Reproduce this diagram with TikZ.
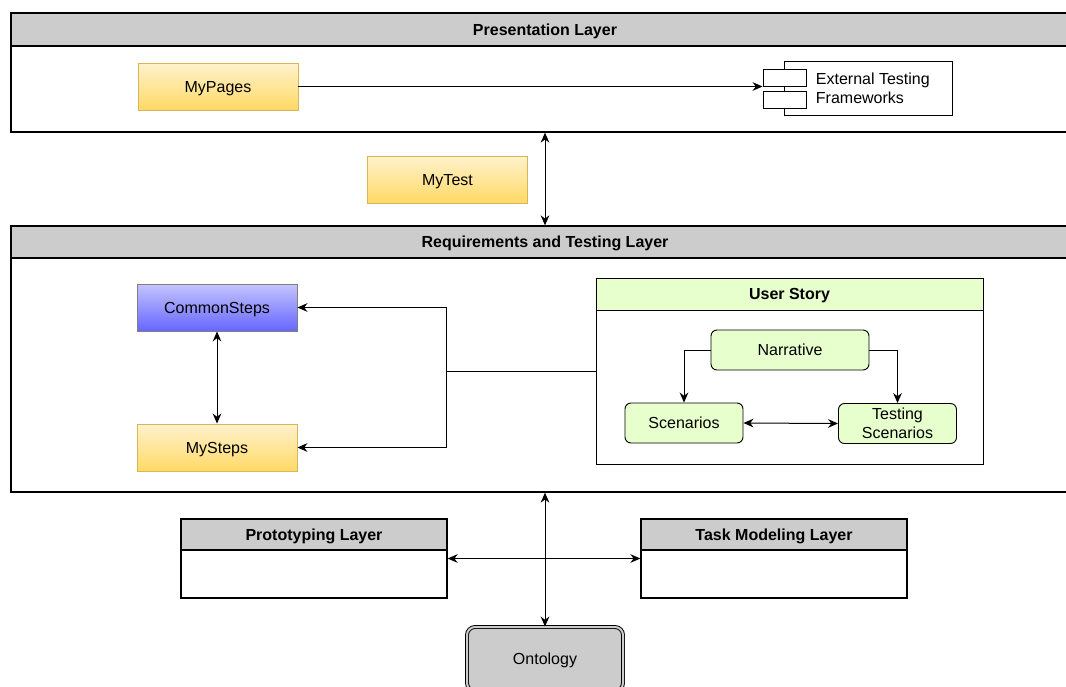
\documentclass[tikz,border=0pt]{standalone}
\usepackage{fontspec}
\setmainfont{Liberation Sans}
\usepackage{xcolor}
\usetikzlibrary{arrows.meta,positioning}
\definecolor{hdrgray}{HTML}{CCCCCC}
\definecolor{yeltop}{HTML}{FFF2CC}
\definecolor{yelbot}{HTML}{FFD966}
\definecolor{yelline}{HTML}{D6B656}
\definecolor{bluetop}{HTML}{C4C4FF}
\definecolor{bluebot}{HTML}{6666FF}
\definecolor{storygreen}{HTML}{E6FFCC}
\tikzset{
  box/.style={draw, rectangle, align=center, inner sep=2pt, line width=0.7pt,
              font=\fontsize{12}{14}\selectfont, text height=0.86em, text depth=0pt},
  twolines/.style={text height={}, text depth={}},
  layer/.style={box, line width=1pt},
  layerhead/.style={layer, fill=hdrgray, font=\fontsize{12}{14}\selectfont\bfseries},
  yellowbox/.style={box, draw=yelline, top color=yeltop, bottom color=yelbot,
                    minimum width=120pt, minimum height=35.25pt},
  bluebox/.style={box, draw=gray, top color=bluetop, bottom color=bluebot,
                  minimum width=120pt, minimum height=35.25pt},
  storybox/.style={box, fill=storygreen, rounded corners=4.5pt, minimum height=30pt},
  port/.style={box, fill=white, minimum width=32.25pt, minimum height=12.75pt},
  lbl/.style={align=left, inner sep=2pt, font=\fontsize{12}{14}\selectfont},
  arr/.style={line width=0.75pt, -{Stealth[length=7.5pt,width=6.5pt]}},
  both/.style={line width=0.75pt, {Stealth[length=7.5pt,width=6.5pt]}-{Stealth[length=7.5pt,width=6.5pt]}},
}
\begin{document}
\begin{tikzpicture}[x=0.75pt, y=-0.75pt]
  \useasboundingbox (0,0) rectangle (1066,686);
  \clip (0,0) rectangle (1066,686);
  % presentation layer
  \node[layer, minimum width=801pt, minimum height=89.25pt] (presbody) at (545,72.5) {};
  \node[layerhead, minimum width=801pt, minimum height=24.75pt] (pres) at (545,29.5) {Presentation Layer};
  \node[yellowbox] (mypages) at (218,86.5) {MyPages};
  \node[box, minimum width=126pt, minimum height=40.5pt] (ext) at (868,88) {};
  \node[port] (extport1) at (784.5,77.5) {};
  \node[port] (extport2) at (784.5,99.5) {};
  \node[lbl, anchor=west] (exttext) at (813,88.5) {External Testing\\Frameworks};
  \node[yellowbox] (mytest) at (447.5,179.5) {MyTest};
  % requirements and testing layer
  \node[layer, minimum width=801pt, minimum height=199.5pt] (reqbody) at (545,359) {};
  \node[layerhead, minimum width=801pt, minimum height=24pt] (req) at (545,242) {Requirements and Testing Layer};
  \node[bluebox] (commonsteps) at (217,307.5) {CommonSteps};
  \node[yellowbox] (mysteps) at (217,447.5) {MySteps};
  % user story
  \node[box, minimum width=290.25pt, minimum height=139.5pt] (storybody) at (789.5,371) {};
  \node[box, fill=storygreen, font=\fontsize{12}{14}\selectfont\bfseries,
        minimum width=290.25pt, minimum height=24pt] (story) at (789.5,294) {User Story};
  \node[storybox, minimum width=118.5pt] (narrative) at (790,350) {Narrative};
  \node[storybox, minimum width=88.5pt] (scen) at (684,423) {Scenarios};
  \node[storybox, twolines, minimum width=88.5pt] (testscen) at (897.5,423.5) {Testing\\Scenarios};
  % lower layers
  \node[layer, minimum width=199.5pt, minimum height=59.25pt] (protobody) at (314,558.5) {};
  \node[layerhead, minimum width=199.5pt, minimum height=23.25pt] (proto) at (314,534.5) {Prototyping Layer};
  \node[layer, minimum width=199.5pt, minimum height=59.25pt] (taskbody) at (774,558.5) {};
  \node[layerhead, minimum width=199.5pt, minimum height=23.25pt] (task) at (774,534.5) {Task Modeling Layer};
  \node[box, fill=hdrgray, double=hdrgray, double distance=1.5pt, rounded corners=6pt,
        minimum width=117pt, minimum height=48pt] (ontology) at (545,659) {Ontology};
  \coordinate (split) at (446,371);
  % edges
  \draw[arr]  (mypages.east) -- (mypages.east -| extport1.west);
  \draw[both] (presbody.south) -- (reqbody.north);
  \draw[both] (commonsteps.south) -- (mysteps.north);
  \draw[line width=0.75pt] (storybody.west) -- (split);
  \draw[arr]  (split) |- (commonsteps.east);
  \draw[arr]  (split) |- (mysteps.east);
  \draw[arr]  (narrative.west) -| (scen.north);
  \draw[arr]  (narrative.east) -| (testscen.north);
  \draw[both] (scen.east) -- (testscen.west);
  \draw[both] (reqbody.south) -- (ontology.north);
  \draw[both] (protobody.east) -- (taskbody.west);
\end{tikzpicture}
\end{document}
